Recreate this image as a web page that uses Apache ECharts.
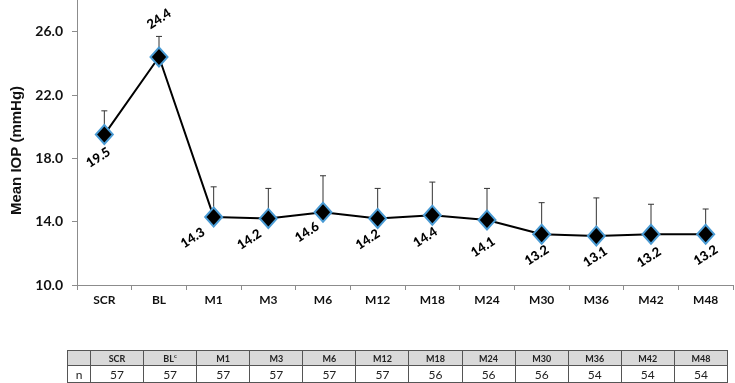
<!DOCTYPE html>
<html>
<head>
<meta charset="utf-8">
<script src="https://cdn.jsdelivr.net/npm/echarts@6/dist/echarts.min.js"></script>
<style>
  body { margin: 0; background: #fff; }
  #wrap { position: relative; width: 735px; height: 383px; overflow: hidden; }
  #iop { position: absolute; left: 0; top: 0; width: 735px; height: 383px; }
  #ntable {
    position: absolute; left: 67px; top: 350px;
    border-collapse: collapse; table-layout: fixed; width: 661px;
    font-family: Lato, "Liberation Sans", sans-serif; color: #222;
  }
  #ntable td { border: 1px solid #555; text-align: center; padding: 0; }
  #ntable tr.head td { background: #d9d9d9; font-size: 9px; font-weight: bold; height: 14px; }
  #ntable tr.vals td { font-size: 12px; height: 16px; }
  #ntable sup { font-size: 6px; }
</style>
</head>
<body>
<div id="wrap">
  <div id="iop"></div>
  <table id="ntable"></table>
</div>
<script>
// 时间点
var categories = ['SCR', 'BL', 'M1', 'M3', 'M6', 'M12', 'M18', 'M24', 'M30', 'M36', 'M42', 'M48'];
// 平均眼压 (mmHg)
var meanIop = [19.5, 24.4, 14.3, 14.2, 14.6, 14.2, 14.4, 14.1, 13.2, 13.1, 13.2, 13.2];
// 标准差 (误差线向上)
var sdIop = [1.5, 1.3, 1.9, 1.9, 2.3, 1.9, 2.1, 2.0, 2.0, 2.4, 1.9, 1.6];
// 表格: 表头 + 人数
var tableHeads = ['SCR', 'BL', 'M1', 'M3', 'M6', 'M12', 'M18', 'M24', 'M30', 'M36', 'M42', 'M48'];
var nPatients = [57, 57, 57, 57, 57, 57, 56, 56, 56, 54, 54, 54];

// 数字标签相对点的偏移 (像素)
var labelShift = [[-6, 23], [0, -38], [-21, 21], [-19, 21], [-16, 20], [-10, 21], [-7, 22], [-4, 27], [-5, 21], [-1, 21], [-2, 23], [0, 21]];

var font = 'Lato, "Liberation Sans", sans-serif';

var option = {
  animation: false,
  grid: { left: 77, right: 2, top: 0, bottom: 98 },
  xAxis: {
    type: 'category',
    data: categories,
    boundaryGap: true,
    axisLine: { lineStyle: { color: '#8c8c8c', width: 1 } },
    axisTick: { show: true, length: 5, lineStyle: { color: '#8c8c8c' } },
    axisLabel: { color: '#111', fontSize: 12, fontWeight: 'bold', fontFamily: font, margin: 9 }
  },
  yAxis: {
    type: 'value',
    min: 10,
    max: 28,
    interval: 4,
    name: 'Mean IOP (mmHg)',
    nameLocation: 'middle',
    nameGap: 50,
    nameTextStyle: { color: '#111', fontSize: 15, fontWeight: 'bold', fontFamily: '"Liberation Sans", Arial, sans-serif', padding: [0, 0, 0, -16] },
    axisLine: { show: true, lineStyle: { color: '#8c8c8c', width: 1 } },
    axisTick: { show: true, length: 5, lineStyle: { color: '#8c8c8c' } },
    splitLine: { show: false },
    axisLabel: {
      color: '#111', fontSize: 14, fontWeight: 'bold', fontFamily: font, margin: 14,
      showMaxLabel: false,
      formatter: function (v) { return v.toFixed(1); }
    }
  },
  series: [
    {
      // 误差线
      type: 'custom',
      z: 1,
      data: categories.map(function (c, i) { return [i, meanIop[i], sdIop[i]]; }),
      encode: { x: 0, y: 1 },
      renderItem: function (params, api) {
        var p0 = api.coord([api.value(0), api.value(1)]);
        var p1 = api.coord([api.value(0), api.value(1) + api.value(2)]);
        return {
          type: 'group',
          children: [
            { type: 'line', shape: { x1: p0[0], y1: p0[1], x2: p1[0], y2: p1[1] }, style: { stroke: '#333', lineWidth: 1 } },
            { type: 'line', shape: { x1: p1[0] - 3, y1: p1[1], x2: p1[0] + 3, y2: p1[1] }, style: { stroke: '#333', lineWidth: 1 } }
          ]
        };
      }
    },
    {
      type: 'line',
      z: 2,
      data: meanIop,
      symbol: 'diamond',
      symbolSize: [17, 19],
      lineStyle: { color: '#000', width: 2 },
      itemStyle: { color: '#000', borderColor: '#4a9bd4', borderWidth: 2 }
    },
    {
      // 数值标签 (斜放, 左下到右上)
      type: 'custom',
      z: 3,
      data: categories.map(function (c, i) { return [i, meanIop[i]]; }),
      encode: { x: 0, y: 1 },
      renderItem: function (params, api) {
        var i = params.dataIndex;
        var p = api.coord([api.value(0), api.value(1)]);
        return {
          type: 'text',
          x: p[0] + labelShift[i][0],
          y: p[1] + labelShift[i][1],
          rotation: 33 * Math.PI / 180,
          style: {
            text: api.value(1).toFixed(1),
            align: 'center',
            verticalAlign: 'middle',
            fill: '#000',
            fontSize: 13,
            fontWeight: 900,
            fontFamily: font
          }
        };
      }
    }
  ]
};

var chart = echarts.init(document.getElementById('iop'));
chart.setOption(option);

// 底部人数表
var head = '<tr class="head"><td style="width:22px"></td>' + tableHeads.map(function (h) {
  return '<td>' + (h === 'BL' ? 'BL<sup>c</sup>' : h) + '</td>';
}).join('') + '</tr>';
var vals = '<tr class="vals"><td>n</td>' + nPatients.map(function (n) { return '<td>' + n + '</td>'; }).join('') + '</tr>';
document.getElementById('ntable').innerHTML = head + vals;
</script>
</body>
</html>
